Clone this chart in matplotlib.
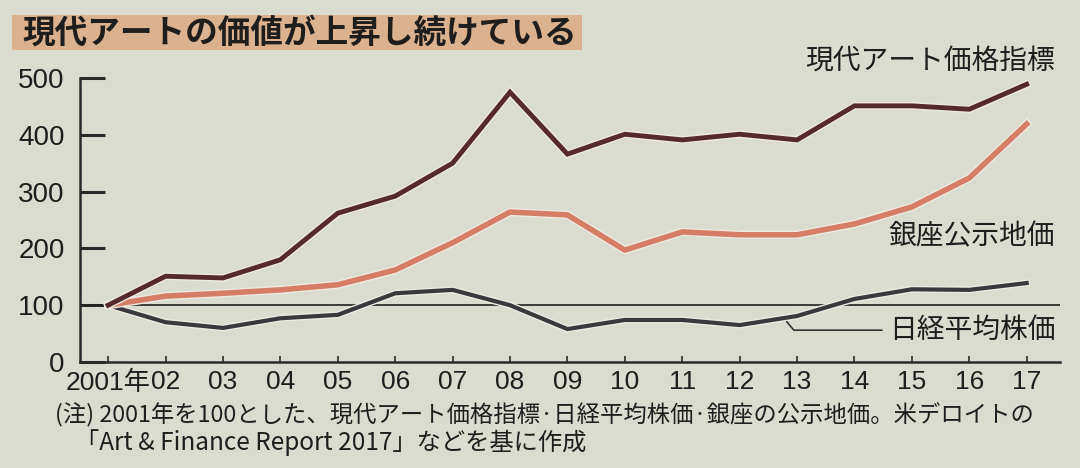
import matplotlib
matplotlib.use("Agg")
import matplotlib.pyplot as plt
import matplotlib.patheffects as pe
from matplotlib.patches import Rectangle
from matplotlib import font_manager

names = {f.name for f in font_manager.fontManager.ttflist}
NARROW = "Liberation Sans Narrow" if "Liberation Sans Narrow" in names else "Liberation Sans"
JP = "Noto Sans CJK JP"
plt.rcParams['font.family'] = [NARROW, JP, 'DejaVu Sans']

# ---- data ----
years = list(range(2001, 2018))
xlabels = ["2001年", "02", "03", "04", "05", "06", "07", "08", "09",
           "10", "11", "12", "13", "14", "15", "16", "17"]
art = [100, 151, 148, 180, 262, 292, 350, 475, 366, 401, 391, 401, 391, 451, 451, 445, 489]
ginza = [100, 116, 121, 127, 136, 162, 210, 264, 259, 197, 229, 224, 224, 243, 273, 324, 419]
nikkei = [100, 70, 60, 77, 83, 121, 127, 100, 58, 74, 74, 65, 81, 111, 128, 127, 139]
yticks = [0, 100, 200, 300, 400, 500]

title = "現代アートの価値が上昇し続けている"
label_art = "現代アート価格指標"
label_ginza = "銀座公示地価"
label_nikkei = "日経平均株価"
note1 = "(注) 2001年を100とした、現代アート価格指標·日経平均株価·銀座の公示地価。米デロイトの"
note2 = "「Art & Finance Report 2017」などを基に作成"

BG = "#dadccf"
C_ART = "#552a2b"
C_GINZA = "#d67d66"
C_NIK = "#38393d"
TXT = "#1e1e1e"

W, H = 1080, 468
fig = plt.figure(figsize=(W / 100, H / 100), dpi=100, facecolor=BG)

# title box
fig.patches.append(Rectangle((12 / W, 1 - 50 / H), 570 / W, 35 / H,
                             transform=fig.transFigure, facecolor="#dbb28d",
                             edgecolor="none", zorder=0))
fig.text(22 / W, 1 - 33 / H, title, fontsize=23.5, fontweight="bold", family=[JP],
         color=TXT, va="center", ha="left")

ax = fig.add_axes([80 / W, 1 - 362 / H, 980 / W, 284 / H])
ax.set_facecolor(BG)
ax.set_xlim(2000.51, 2017.58)
ax.set_ylim(0, 500)

ax.axhline(100, color="#222222", lw=1.2, zorder=2)
ax.plot(years, nikkei, color=C_NIK, lw=3.0, zorder=3, solid_joinstyle="miter",
        path_effects=[pe.Stroke(linewidth=5, foreground="#eeeae2"), pe.Normal()])
ax.plot(years, ginza, color=C_GINZA, lw=4.0, zorder=4, solid_joinstyle="miter",
        path_effects=[pe.Stroke(linewidth=6, foreground="#eeeae2"), pe.Normal()])
ax.plot(years, art, color=C_ART, lw=3.5, zorder=5, solid_joinstyle="miter",
        path_effects=[pe.Stroke(linewidth=5.5, foreground="#eeeae2"), pe.Normal()])

for s in ["top", "right"]:
    ax.spines[s].set_visible(False)
for s in ["left", "bottom"]:
    ax.spines[s].set_linewidth(1.8)
    ax.spines[s].set_color("#2a2a2a")

ax.set_yticks(yticks)
ax.set_yticklabels([str(v) for v in yticks])
ax.set_xticks(years)
ax.set_xticklabels(xlabels)
ax.tick_params(axis="y", direction="in", length=18, width=2.2, color="#2a2a2a",
               pad=11, labelsize=20, labelcolor=TXT)
ax.tick_params(axis="x", direction="in", length=4, width=1.2, color="#2a2a2a",
               pad=6, labelsize=19, labelcolor=TXT)

# series labels
ax.text(2017.49, 528, label_art, family=[JP], fontsize=20, color=TXT,
        ha="right", va="center", clip_on=False)
ax.text(2017.49, 222, label_ginza, family=[JP], fontsize=20, color=TXT,
        ha="right", va="center", clip_on=False)
ax.annotate(label_nikkei, xy=(2012.82, 71), xytext=(2014.6, 56),
            textcoords="data", family=[JP], fontsize=20, color=TXT,
            ha="left", va="center",
            arrowprops=dict(arrowstyle="-", color="#333333", lw=1.2,
                            relpos=(0, 0.5), shrinkA=3, shrinkB=0,
                            connectionstyle="angle,angleA=0,angleB=130,rad=0"))

# notes
fig.text(55 / W, 1 - 415 / H, note1, family=[JP], fontsize=16.8, color=TXT,
         ha="left", va="center")
fig.text(75 / W, 1 - 443 / H, note2, family=[JP], fontsize=17.5, color=TXT,
         ha="left", va="center")

fig.savefig("out.png", dpi=100, facecolor=BG)
